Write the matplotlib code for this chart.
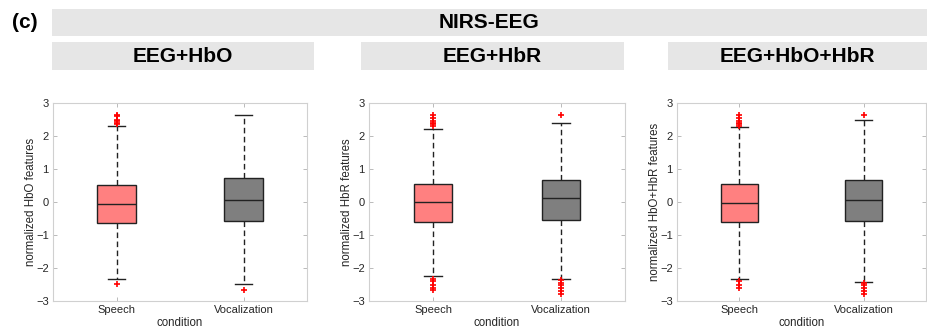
import numpy as np
import matplotlib.pyplot as plt
from matplotlib.patches import Rectangle

plt.rcParams['font.family'] = ['Liberation Sans', 'DejaVu Sans']

groups = ['Speech', 'Vocalization']
titles = ['EEG+HbO', 'EEG+HbR', 'EEG+HbO+HbR']
ylabels = ['normalized HbO features', 'normalized HbR features',
           'normalized HbO+HbR features']

# box stats per panel: [Speech, Vocalization]
med = [[-0.07, 0.07], [-0.01, 0.11], [-0.03, 0.05]]
q1 = [[-0.65, -0.59], [-0.60, -0.54], [-0.61, -0.57]]
q3 = [[0.53, 0.72], [0.55, 0.66], [0.54, 0.66]]
whislo = [[-2.33, -2.47], [-2.23, -2.32], [-2.32, -2.41]]
whishi = [[2.29, 2.63], [2.22, 2.40], [2.27, 2.50]]
fliers = [
    [[2.35, 2.40, 2.45, 2.50, 2.60, 2.65, -2.49], [-2.68]],
    [[2.30, 2.35, 2.40, 2.45, 2.55, 2.63, -2.32, -2.40, -2.50, -2.60, -2.66],
     [2.63, -2.37, -2.45, -2.50, -2.60, -2.70, -2.80]],
    [[2.30, 2.35, 2.40, 2.45, 2.55, 2.63, -2.40, -2.50, -2.60],
     [2.63, -2.45, -2.50, -2.60, -2.70, -2.80]],
]

box_colors = ['#ff8080', '#7f7f7f']

W, H = 927, 332
fig = plt.figure(figsize=(W / 100, H / 100), dpi=100)

def px(x0, y0, x1, y1):
    return [x0 / W, 1 - y1 / H, (x1 - x0) / W, (y1 - y0) / H]

axes_px = [(53, 103, 307, 301), (369, 103, 625, 301), (677, 103, 926, 301)]
banner_px = [(52, 42, 314, 70), (361, 42, 624, 70), (668, 42, 927, 70)]

# top banner
fig.add_artist(Rectangle((52 / W, 1 - 36 / H), (927 - 52) / W, 27 / H,
                         transform=fig.transFigure, color='#e6e6e6', lw=0))
fig.text((52 + 927) / 2 / W, 1 - 22.5 / H, 'NIRS-EEG', ha='center', va='center',
         fontsize=15, fontweight='bold')
fig.text(25 / W, 1 - 22.5 / H, '(c)', ha='center', va='center',
         fontsize=15, fontweight='bold')

for i in range(3):
    x0, y0, x1, y1 = banner_px[i]
    fig.add_artist(Rectangle((x0 / W, 1 - y1 / H), (x1 - x0) / W, (y1 - y0) / H,
                             transform=fig.transFigure, color='#e6e6e6', lw=0))
    fig.text((x0 + x1) / 2 / W, 1 - (y0 + y1) / 2 / H, titles[i],
             ha='center', va='center', fontsize=15, fontweight='bold')

    ax = fig.add_axes(px(*axes_px[i]))
    stats = []
    for j in range(2):
        stats.append(dict(med=med[i][j], q1=q1[i][j], q3=q3[i][j],
                          whislo=whislo[i][j], whishi=whishi[i][j],
                          fliers=fliers[i][j], label=groups[j]))
    bp = ax.bxp(stats, positions=[1, 2], widths=0.3, capwidths=0.14,
                patch_artist=True,
                boxprops=dict(edgecolor='#222222', linewidth=1.0),
                medianprops=dict(color='#222222', linewidth=1.0),
                whiskerprops=dict(color='#222222', linewidth=1.0,
                                  linestyle=(0, (4, 2.5))),
                capprops=dict(color='#222222', linewidth=1.0),
                flierprops=dict(marker='+', markeredgecolor='red',
                                markersize=4, markeredgewidth=1.2))
    for patch, c in zip(bp['boxes'], box_colors):
        patch.set_facecolor(c)

    ax.set_xlim(0.5, 2.5)
    ax.set_ylim(-3, 3)
    ax.set_yticks(np.arange(-3, 4))
    ax.set_yticklabels([str(v).replace('-', '\u2212') for v in range(-3, 4)])
    ax.set_xticks([1, 2])
    ax.set_xticklabels(groups)
    ax.tick_params(direction='in', length=3, width=0.6, color='#b0b0b0',
                   labelcolor='#262626', labelsize=8, top=True, right=True,
                   pad=3)
    for s in ax.spines.values():
        s.set_color('#d0d0d0')
        s.set_linewidth(0.8)
    ax.set_xlabel('condition', fontsize=8.3, color='#262626', labelpad=1)
    ax.set_ylabel(ylabels[i], fontsize=8.3, color='#262626')
    axw = axes_px[i][2] - axes_px[i][0]
    ax.yaxis.set_label_coords(-16.5 / axw, 0.5)

fig.savefig('out.png', dpi=100)
